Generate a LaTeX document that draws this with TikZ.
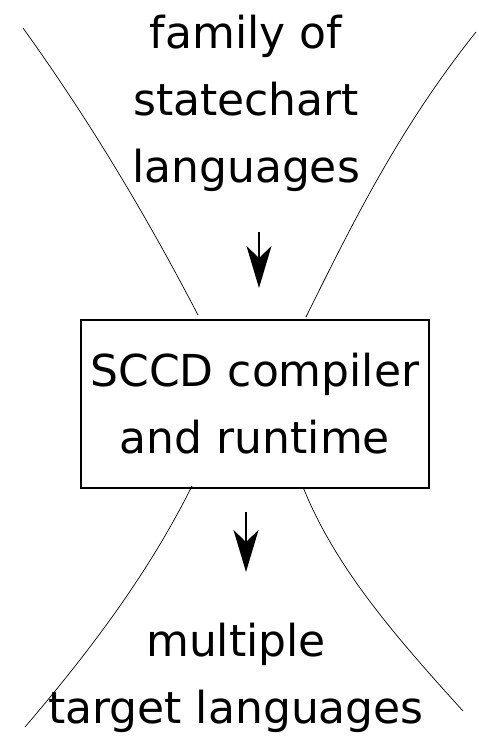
\documentclass[tikz,border=0pt]{standalone}
\usepackage{fontspec}
\setmainfont{DejaVu Sans}
\usetikzlibrary{arrows.meta}
\tikzset{
  lbl/.style={inner sep=0pt, align=center, font=\fontsize{44}{67}\selectfont},
  boxnode/.style={draw, line width=1.6pt, minimum width=348pt, minimum height=168pt, inner sep=0pt, align=center, font=\fontsize{44}{67}\selectfont},
  funnel/.style={line width=0.7pt},
  flow/.style={line width=1.6pt, -{Stealth[length=42pt, width=25pt, inset=12pt]}}
}
\begin{document}
\begin{tikzpicture}[x=1pt,y=-1pt]
\useasboundingbox (0,0) rectangle (479,744);
\node[lbl] (src) at (246,103.5) {family of\\statechart\\languages};
\node[boxnode] (box) at (255,404) {SCCD compiler\\and runtime};
\node[lbl] (tgt) at (236,677.5) {multiple\\target languages};
\coordinate (a1s) at (259,232);
\coordinate (a1e) at (259,288);
\coordinate (a2s) at (246,512);
\coordinate (a2e) at (246,572);
\draw[flow] (a1s) -- (a1e);
\draw[flow] (a2s) -- (a2e);
\coordinate (tl1) at (23,28);
\coordinate (tl2) at (198,315);
\coordinate (tr1) at (476,32);
\coordinate (tr2) at (306,317);
\coordinate (bl1) at (192,486);
\coordinate (bl2) at (25,727);
\coordinate (br1) at (303,487);
\coordinate (br2) at (463,711);
\draw[funnel] (tl1) .. controls (92,124) and (148,219) .. (tl2);
\draw[funnel] (tr1) .. controls (400,127) and (353,222) .. (tr2);
\draw[funnel] (bl1) .. controls (150,570) and (95,645) .. (bl2);
\draw[funnel] (br1) .. controls (335,567) and (395,636) .. (br2);
\end{tikzpicture}
\end{document}
